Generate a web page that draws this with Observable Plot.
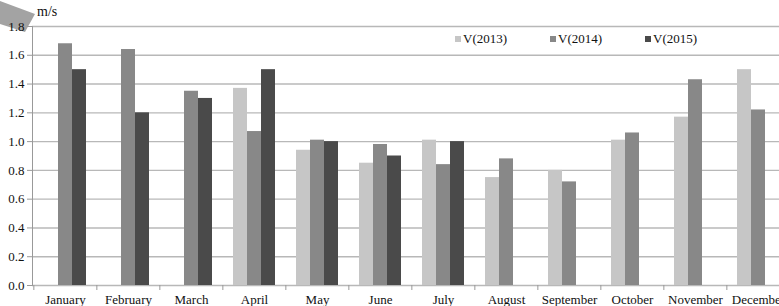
<!DOCTYPE html>
<html><head><meta charset="utf-8">
<script src="https://cdn.jsdelivr.net/npm/d3@7"></script>
<script src="https://cdn.jsdelivr.net/npm/@observablehq/plot@0.6"></script>
<style>
body{margin:0;background:#fff;overflow:hidden}
#wrap{position:relative;width:779px;height:306px;overflow:hidden;font-family:'Liberation Serif','Times New Roman',serif;background:#fff}
#corner{position:absolute;left:0;top:0;width:40px;height:40px;background:#a3a3a3;clip-path:polygon(0 1px,35px 14px,25px 32px,0 24px)}
#unit{position:absolute;left:37px;top:4px;font-size:14px;color:#111}
#legend{position:absolute;left:455px;top:31px;display:flex;font-size:13px;color:#111}
#legend .it{display:flex;align-items:center;width:95px}
#legend .sw{width:6px;height:6px;margin-right:2px}
#chart{position:absolute;left:0;top:0}
#chart svg{background:transparent!important;font-family:'Liberation Serif','Times New Roman',serif!important}
#chart svg text{font-family:'Liberation Serif','Times New Roman',serif!important}
</style></head><body>
<div id="wrap"><div id="corner"></div><div id="chart"></div><div id="unit">m/s</div><div id="legend"></div></div>
<script>
const months = ["January","February","March","April","May","June","July","August","September","October","November","December"];
const v2013 = [null,null,null,1.37,0.94,0.85,1.01,0.75,0.80,1.01,1.17,1.50];
const v2014 = [1.68,1.64,1.35,1.07,1.01,0.98,0.84,0.88,0.72,1.06,1.43,1.22];
const v2015 = [1.50,1.20,1.30,1.50,1.00,0.90,1.00,null,null,null,null,null];
const series = ["V(2013)","V(2014)","V(2015)"];
const colors = ["#c6c6c6","#888888","#4a4a4a"];
const yTicks = [0,0.2,0.4,0.6,0.8,1.0,1.2,1.4,1.6,1.8];

const data = [];
[v2013,v2014,v2015].forEach((vals,s)=>vals.forEach((v,i)=>{ if(v!=null) data.push({month:months[i], series:series[s], value:v}); }));

const fmt = d3.format(".1f");
const chart = Plot.plot({
  width: 779, height: 306,
  marginLeft: 32, marginTop: 26, marginBottom: 21, marginRight: 0,
  style: {fontFamily: "'Liberation Serif', 'Times New Roman', serif", fontSize: "13px", color: "#111", background: "transparent"},
  x: {domain: months, range: [31.6, 791.2], paddingInner: 0.7788, paddingOuter: 0.3894, label: null},
  y: {domain: [0, 1.8], label: null},
  color: {domain: series, range: colors},
  marks: [
    Plot.ruleY(yTicks, {stroke: "#b8b8b8", strokeWidth: 1.4}),
    ...series.map((s, k) => Plot.barY(data.filter(d => d.series === s), {x: "month", y: "value", fill: "series", dx: (k - 1) * 14})),
    Plot.axisY({ticks: yTicks, tickSize: 5, tickPadding: 3, stroke: "#999", tickFormat: fmt}),
    Plot.axisX({tickSize: 0, tickPadding: 9}),
    Plot.axisX({tickSize: 5, tickFormat: () => "", dx: -31.65, stroke: "#999"}),
    Plot.frame({anchor: "left", stroke: "#999"})
  ]
});
document.getElementById("chart").appendChild(chart);

const leg = document.getElementById("legend");
series.forEach((s, k) => {
  const it = document.createElement("div"); it.className = "it";
  const sw = document.createElement("span"); sw.className = "sw"; sw.style.background = colors[k];
  const t = document.createElement("span"); t.textContent = s;
  it.appendChild(sw); it.appendChild(t); leg.appendChild(it);
});
</script>
</body></html>
